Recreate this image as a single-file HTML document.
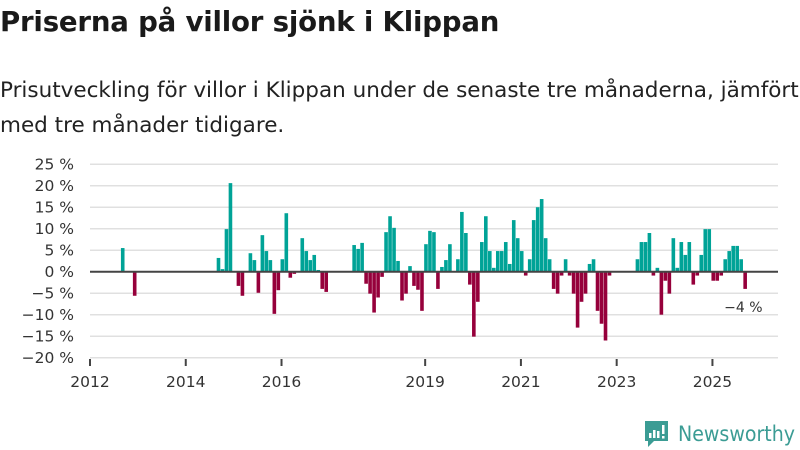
<!DOCTYPE html>
<html><head><meta charset="utf-8"><style>
body{margin:0;width:800px;height:450px;background:#fff;font-family:"DejaVu Sans","Liberation Sans",sans-serif;overflow:hidden;position:relative}
#title{position:absolute;left:0;top:5px;font-size:27.6px;font-weight:bold;color:#1a1a1a;white-space:nowrap;letter-spacing:-0.2px}
#sub{position:absolute;left:0;top:73px;font-size:21.5px;line-height:35px;color:#222;width:805px}
svg{position:absolute;left:0;top:0}
</style></head><body>
<div id="title">Priserna på villor sjönk i Klippan</div>
<div id="sub">Prisutveckling för villor i Klippan under de senaste tre månaderna, jämfört<br>med tre månader tidigare.</div>
<svg id="chart" width="800" height="450"></svg>
<script>
const startYear = 2012;
const values = [null,null,null,null,null,null,null,5.5,null,null,-5.6,null,
null,null,null,null,null,null,null,null,null,null,null,null,
null,null,null,null,null,null,null,3.2,0.6,9.9,20.6,null,
-3.3,-5.6,null,4.3,2.7,-4.9,8.5,4.8,2.7,-9.8,-4.3,2.9,
13.6,-1.4,-0.5,null,7.8,4.8,2.7,3.9,0.4,-4.0,-4.7,null,
null,null,null,null,null,6.2,5.3,6.7,-2.8,-5.1,-9.5,-6.0,
-1.2,9.2,12.9,10.2,2.5,-6.7,-5.1,1.3,-3.3,-4.2,-9.1,6.4,
9.5,9.2,-4.0,1.1,2.7,6.4,null,2.9,13.9,9.0,-3.0,-15.1,
-7.0,6.9,12.9,4.8,0.9,4.8,4.8,6.9,1.8,12.0,7.8,4.8,
-0.9,2.9,12.0,15.0,16.9,7.8,2.9,-4.0,-5.1,-0.9,2.9,-0.9,
-5.1,-13.0,-7.0,-5.1,1.8,2.9,-9.1,-12.1,-16.0,-0.9,null,null,
null,null,null,null,2.9,6.9,6.9,9.0,-0.9,0.9,-10.0,-2.1,
-5.1,7.8,0.9,6.9,3.9,6.9,-3.0,-0.9,3.9,9.9,9.9,-2.1,
-2.1,-0.9,2.9,4.8,6.0,6.0,2.9,-4.0];
const yTicks = [25,20,15,10,5,0,-5,-10,-15,-20];
const xTickYears = [2012,2014,2016,2019,2021,2023,2025];
const lastLabel = "−4 %";

const NS="http://www.w3.org/2000/svg";
const svg=document.getElementById('chart');
const y0=271.7, pxPerPct=4.3;
const yS=v=>y0-v*pxPerPct;
const monthW=3.99, x0=90;
const xM=i=>x0+i*monthW;
const xY=yr=>x0+(yr-startYear)*12*monthW;
function mk(t,a){const e=document.createElementNS(NS,t);for(const k in a)e.setAttribute(k,a[k]);svg.appendChild(e);return e;}
yTicks.forEach(t=>{
  const g=mk('line',{x1:90,x2:778,y1:yS(t),y2:yS(t),stroke:'#e0e0e0','stroke-width':1.5});
  
  
  const l=mk('text',{x:74,y:yS(t)+5.5,'text-anchor':'end','font-size':15.5,fill:'#333','font-family':'DejaVu Sans, sans-serif'});
  l.textContent=(t<0?'−'+(-t):t)+' %';
  
  
});
values.forEach((v,i)=>{
  if(v===null)return;
  const r=mk('rect',{x:xM(i+0.75),width:3.6,y:Math.min(yS(v),y0),height:Math.abs(yS(v)-y0),fill:v>=0?'#00a397':'#96003b'});
  
  
});
const base=mk('line',{x1:90,x2:778,y1:y0,y2:y0,stroke:'#444','stroke-width':2});


const ax=mk('line',{x1:90,x2:778,y1:357.5,y2:357.5,stroke:'#e0e0e0','stroke-width':1});


xTickYears.forEach(yr=>{
  const tk=mk('line',{x1:xY(yr),x2:xY(yr),y1:359,y2:366,stroke:'#444','stroke-width':2});
  
  
  const l=mk('text',{x:xY(yr),y:387,'text-anchor':'middle','font-size':15.5,fill:'#333','font-family':'DejaVu Sans, sans-serif'});
  l.textContent=yr;
  
  
});
const li=values.length-1;
const lab=mk('text',{x:xM(li+0.75),y:yS(values[li])+23,'text-anchor':'middle','font-size':14,fill:'#333','font-family':'DejaVu Sans, sans-serif'});
lab.textContent=lastLabel;


</script>
<svg width="800" height="450" style="pointer-events:none">
<path d="M645 421h23v20h-14l-6 6v-6h-3z" fill="#3b9c94"/>
<rect x="649" y="433" width="2.5" height="5" fill="#fff"/><rect x="653" y="430" width="2.5" height="8" fill="#fff"/><rect x="657" y="431" width="2.5" height="7" fill="#fff"/><rect x="662" y="425" width="2.5" height="9" fill="#fff"/><rect x="662" y="436" width="2.5" height="2.5" fill="#fff"/>
<text x="678" y="441" font-size="21" fill="#3b9c94" font-family="DejaVu Sans, sans-serif" textLength="117" lengthAdjust="spacingAndGlyphs">Newsworthy</text>
</svg>
</body></html>
